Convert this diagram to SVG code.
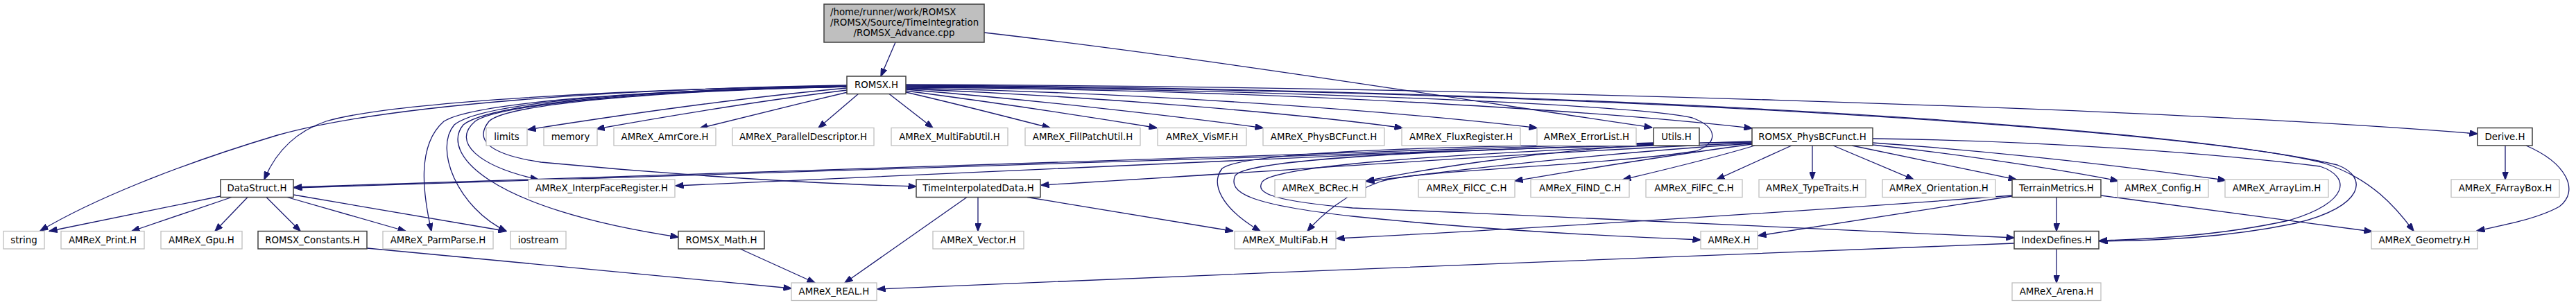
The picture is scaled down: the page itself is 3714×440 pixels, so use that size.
<svg xmlns="http://www.w3.org/2000/svg" width="3714" height="440" viewBox="0 0 3714 440">
<style>
text{font-family:"DejaVu Sans","Liberation Sans",sans-serif;font-size:13.33px;fill:#000;text-anchor:middle}
.n rect{fill:#fff;stroke:#404040;stroke-width:1.5}
.x rect{fill:#fff;stroke:#bfbfbf;stroke-width:1.3}
.e path{fill:none;stroke:#191970;stroke-width:1.3;marker-end:url(#a)}
</style>
<defs>
<marker id="a" markerWidth="12" markerHeight="9" refX="11.5" refY="4.5" orient="auto" markerUnits="userSpaceOnUse">
<path d="M0,0 L12,4.5 L0,9 z" fill="#191970" stroke="#191970" stroke-width="1"/>
</marker>
</defs>
<rect width="3714" height="440" fill="#fff"/>
<g class="e" id="edges">
<path d="M1291,61 L1270,110"/>
<path d="M1419,47 C1750,85 2150,150 2382,184"/>
<path d="M1221,123 C900,128 560,150 400,195 C250,240 130,290 58,333"/>
<path d="M1221,124 C900,128 560,148 470,175 C420,192 395,225 381,259"/>
<path d="M1221,127 C1080,140 900,165 761,187"/>
<path d="M1221,130 C1100,145 960,168 860,186"/>
<path d="M1222,133 C1150,150 1070,170 1009,185"/>
<path d="M1238,135 L1180,184.5"/>
<path d="M1282,135.5 L1345,184.5"/>
<path d="M1306,133 C1380,150 1450,168 1514,184.5"/>
<path d="M1306,131 C1450,150 1580,170 1668,184.5"/>
<path d="M1306,129 C1500,145 1700,168 1821,184.5"/>
<path d="M1306,128 C1600,140 1880,165 2022,184.5"/>
<path d="M1306,127 C1700,135 2050,165 2216,184.5"/>
<path d="M1306,126 C1900,130 2350,165 2526,185"/>
<path d="M1306,122 C2100,125 3100,155 3572,193"/>
<path d="M1306,123 C2300,128 3150,185 3350,235 C3420,258 3455,300 3480,333.5"/>
<path d="M1306,124 C2300,130 3150,185 3370,238 C3415,255 3410,298 3310,322 C3210,343 3110,347 3027,348"/>
<path d="M1306,125 C1800,128 2350,150 2440,170 C2480,185 2475,208 2445,218 C2300,240 2040,245 1990,262 C1940,280 1905,310 1885,333.5"/>
<path d="M1221,125 C950,130 720,150 685,175 C650,205 690,240 776,259"/>
<path d="M1221,125 C950,131 730,150 705,175 C685,200 700,222 780,234 C1000,255 1200,266 1321,269"/>
<path d="M1221,125 C900,130 680,150 640,175 C600,210 610,280 622,333.5"/>
<path d="M1221,125 C900,130 690,150 655,180 C625,215 660,300 730,333.5"/>
<path d="M1221,125 C920,130 705,150 668,180 C635,220 700,300 978,342"/>
<path d="M318,283 L71,333.5"/>
<path d="M334,284.5 L190,333.5"/>
<path d="M357,284.5 L310,333.5"/>
<path d="M384,284.5 L433,333.5"/>
<path d="M414,284.5 L585,333.5"/>
<path d="M423,281 L730,333.5"/>
<path d="M529,358 L1141,416"/>
<path d="M1067,359 L1175,408"/>
<path d="M1394,284.5 L1218,408"/>
<path d="M1410,284.5 L1410,333.5"/>
<path d="M1481,284.5 L1778,333.5"/>
<path d="M2384,206 C1900,222 1300,245 424,270"/>
<path d="M2526,204 C2000,220 1300,246 424,271"/>
<path d="M2384,207 C1900,225 1300,252 974,268"/>
<path d="M2526,206 C2200,220 1800,250 1501,267"/>
<path d="M2384,208 C2200,220 2050,245 1970,261"/>
<path d="M2526,207 C2300,222 2100,245 1970,262"/>
<path d="M2526,205 C2200,210 1800,213 1762,243 C1745,265 1760,300 1817,333.5"/>
<path d="M2384,209 C2100,216 1800,228 1781,253 C1770,278 1800,295 1950,312 C2150,333 2350,342 2452,346"/>
<path d="M2384,210 C2100,222 1840,238 1820,262 C1808,280 1840,290 1950,300 C2300,315 2700,332 2904,343"/>
<path d="M2526,208 C2400,225 2260,248 2184,261"/>
<path d="M2530,210 C2470,228 2400,245 2340,259"/>
<path d="M2583,210 L2475,259"/>
<path d="M2613,210 L2613,259"/>
<path d="M2643,210 L2759,259"/>
<path d="M2670,210 L2907,259"/>
<path d="M2700,209 C2850,225 3000,250 3054,261"/>
<path d="M2700,206 C2900,220 3100,245 3209,260"/>
<path d="M2700,200 C2950,203 3200,222 3345,240 C3390,255 3388,292 3300,318 C3200,340 3100,345 3027,347"/>
<path d="M2965,284.5 L2965,333.5"/>
<path d="M2901,283 L2535,340"/>
<path d="M2901,282 C2600,305 2200,330 1927,344"/>
<path d="M3029,282 L3420,334"/>
<path d="M2965,359 L2965,408"/>
<path d="M2904,351 C2500,365 1800,395 1265,417"/>
<path d="M3612,210 L3612,259"/>
<path d="M3642,210 C3700,235 3720,275 3690,298 C3660,315 3610,325 3571,333"/>
</g>
<g id="n-advance"><rect x="1188" y="6" width="231" height="55" fill="#bfbfbf" stroke="#404040" stroke-width="1.5"/>
<text x="1197" y="22" style="text-anchor:start">/home/runner/work/ROMSX</text>
<text x="1197" y="37" style="text-anchor:start">/ROMSX/Source/TimeIntegration</text>
<text x="1303.5" y="52">/ROMSX_Advance.cpp</text></g>
<g id="n-romsx" class="n"><rect x="1221" y="110" width="85" height="25.5"/><text x="1263.5" y="127.3">ROMSX.H</text></g>
<g id="n-limits" class="x"><rect x="701" y="184.5" width="59" height="25.5"/><text x="730.5" y="201.8">limits</text></g>
<g id="n-memory" class="x"><rect x="784" y="184.5" width="77" height="25.5"/><text x="822.5" y="201.8">memory</text></g>
<g id="n-amrcore" class="x"><rect x="885" y="184.5" width="147" height="25.5"/><text x="958.5" y="201.8">AMReX_AmrCore.H</text></g>
<g id="n-paralleldesc" class="x"><rect x="1056" y="184.5" width="204" height="25.5"/><text x="1158" y="201.8">AMReX_ParallelDescriptor.H</text></g>
<g id="n-multifabutil" class="x"><rect x="1285" y="184.5" width="168" height="25.5"/><text x="1369" y="201.8">AMReX_MultiFabUtil.H</text></g>
<g id="n-fillpatchutil" class="x"><rect x="1478" y="184.5" width="166" height="25.5"/><text x="1561" y="201.8">AMReX_FillPatchUtil.H</text></g>
<g id="n-vismf" class="x"><rect x="1669" y="184.5" width="128" height="25.5"/><text x="1733" y="201.8">AMReX_VisMF.H</text></g>
<g id="n-physbcfunct" class="x"><rect x="1821" y="184.5" width="175" height="25.5"/><text x="1908.5" y="201.8">AMReX_PhysBCFunct.H</text></g>
<g id="n-fluxregister" class="x"><rect x="2021" y="184.5" width="171" height="25.5"/><text x="2106.5" y="201.8">AMReX_FluxRegister.H</text></g>
<g id="n-errorlist" class="x"><rect x="2216" y="184.5" width="143" height="25.5"/><text x="2287.5" y="201.8">AMReX_ErrorList.H</text></g>
<g id="n-utils" class="n"><rect x="2384" y="184.5" width="66" height="25.5"/><text x="2417" y="201.8">Utils.H</text></g>
<g id="n-romsxphysbc" class="n"><rect x="2526" y="184.5" width="174" height="25.5"/><text x="2613" y="201.8">ROMSX_PhysBCFunct.H</text></g>
<g id="n-derive" class="n"><rect x="3572" y="184.5" width="79" height="25.5"/><text x="3611.5" y="201.8">Derive.H</text></g>
<g id="n-datastruct" class="n"><rect x="318" y="259" width="105" height="25.5"/><text x="370.5" y="276.3">DataStruct.H</text></g>
<g id="n-interpface" class="x"><rect x="762" y="259" width="211" height="25.5"/><text x="867.5" y="276.3">AMReX_InterpFaceRegister.H</text></g>
<g id="n-timeinterp" class="n"><rect x="1321" y="259" width="179" height="25.5"/><text x="1410.5" y="276.3">TimeInterpolatedData.H</text></g>
<g id="n-bcrec" class="x"><rect x="1838" y="259" width="131" height="25.5"/><text x="1903.5" y="276.3">AMReX_BCRec.H</text></g>
<g id="n-filcc" class="x"><rect x="2045" y="259" width="139" height="25.5"/><text x="2114.5" y="276.3">AMReX_FilCC_C.H</text></g>
<g id="n-filnd" class="x"><rect x="2207" y="259" width="142" height="25.5"/><text x="2278" y="276.3">AMReX_FilND_C.H</text></g>
<g id="n-filfc" class="x"><rect x="2373" y="259" width="139" height="25.5"/><text x="2442.5" y="276.3">AMReX_FilFC_C.H</text></g>
<g id="n-typetraits" class="x"><rect x="2536" y="259" width="154" height="25.5"/><text x="2613" y="276.3">AMReX_TypeTraits.H</text></g>
<g id="n-orientation" class="x"><rect x="2714" y="259" width="163" height="25.5"/><text x="2795.5" y="276.3">AMReX_Orientation.H</text></g>
<g id="n-terrain" class="n"><rect x="2901" y="259" width="128" height="25.5"/><text x="2965" y="276.3">TerrainMetrics.H</text></g>
<g id="n-config" class="x"><rect x="3053" y="259" width="131" height="25.5"/><text x="3118.5" y="276.3">AMReX_Config.H</text></g>
<g id="n-arraylim" class="x"><rect x="3208" y="259" width="149" height="25.5"/><text x="3282.5" y="276.3">AMReX_ArrayLim.H</text></g>
<g id="n-farraybox" class="x"><rect x="3534" y="259" width="156" height="25.5"/><text x="3612" y="276.3">AMReX_FArrayBox.H</text></g>
<g id="n-string" class="x"><rect x="5" y="333.5" width="59" height="25.5"/><text x="34.5" y="350.8">string</text></g>
<g id="n-print" class="x"><rect x="88" y="333.5" width="120" height="25.5"/><text x="148" y="350.8">AMReX_Print.H</text></g>
<g id="n-gpu" class="x"><rect x="232" y="333.5" width="117" height="25.5"/><text x="290.5" y="350.8">AMReX_Gpu.H</text></g>
<g id="n-constants" class="n"><rect x="372" y="333.5" width="157" height="25.5"/><text x="450.5" y="350.8">ROMSX_Constants.H</text></g>
<g id="n-parmparse" class="x"><rect x="552" y="333.5" width="159" height="25.5"/><text x="631.5" y="350.8">AMReX_ParmParse.H</text></g>
<g id="n-iostream" class="x"><rect x="736" y="333.5" width="80" height="25.5"/><text x="776" y="350.8">iostream</text></g>
<g id="n-math" class="n"><rect x="978" y="333.5" width="124" height="25.5"/><text x="1040" y="350.8">ROMSX_Math.H</text></g>
<g id="n-vector" class="x"><rect x="1345" y="333.5" width="131" height="25.5"/><text x="1410.5" y="350.8">AMReX_Vector.H</text></g>
<g id="n-multifab" class="x"><rect x="1780" y="333.5" width="146" height="25.5"/><text x="1853" y="350.8">AMReX_MultiFab.H</text></g>
<g id="n-amrex" class="x"><rect x="2452" y="333.5" width="82" height="25.5"/><text x="2493" y="350.8">AMReX.H</text></g>
<g id="n-indexdefines" class="n"><rect x="2904" y="333.5" width="122" height="25.5"/><text x="2965" y="350.8">IndexDefines.H</text></g>
<g id="n-geometry" class="x"><rect x="3419" y="333.5" width="153" height="25.5"/><text x="3495.5" y="350.8">AMReX_Geometry.H</text></g>
<g id="n-real" class="x"><rect x="1141" y="408" width="123" height="25.5"/><text x="1202.5" y="425.3">AMReX_REAL.H</text></g>
<g id="n-arena" class="x"><rect x="2901" y="408" width="128" height="25.5"/><text x="2965" y="425.3">AMReX_Arena.H</text></g>
</svg>
